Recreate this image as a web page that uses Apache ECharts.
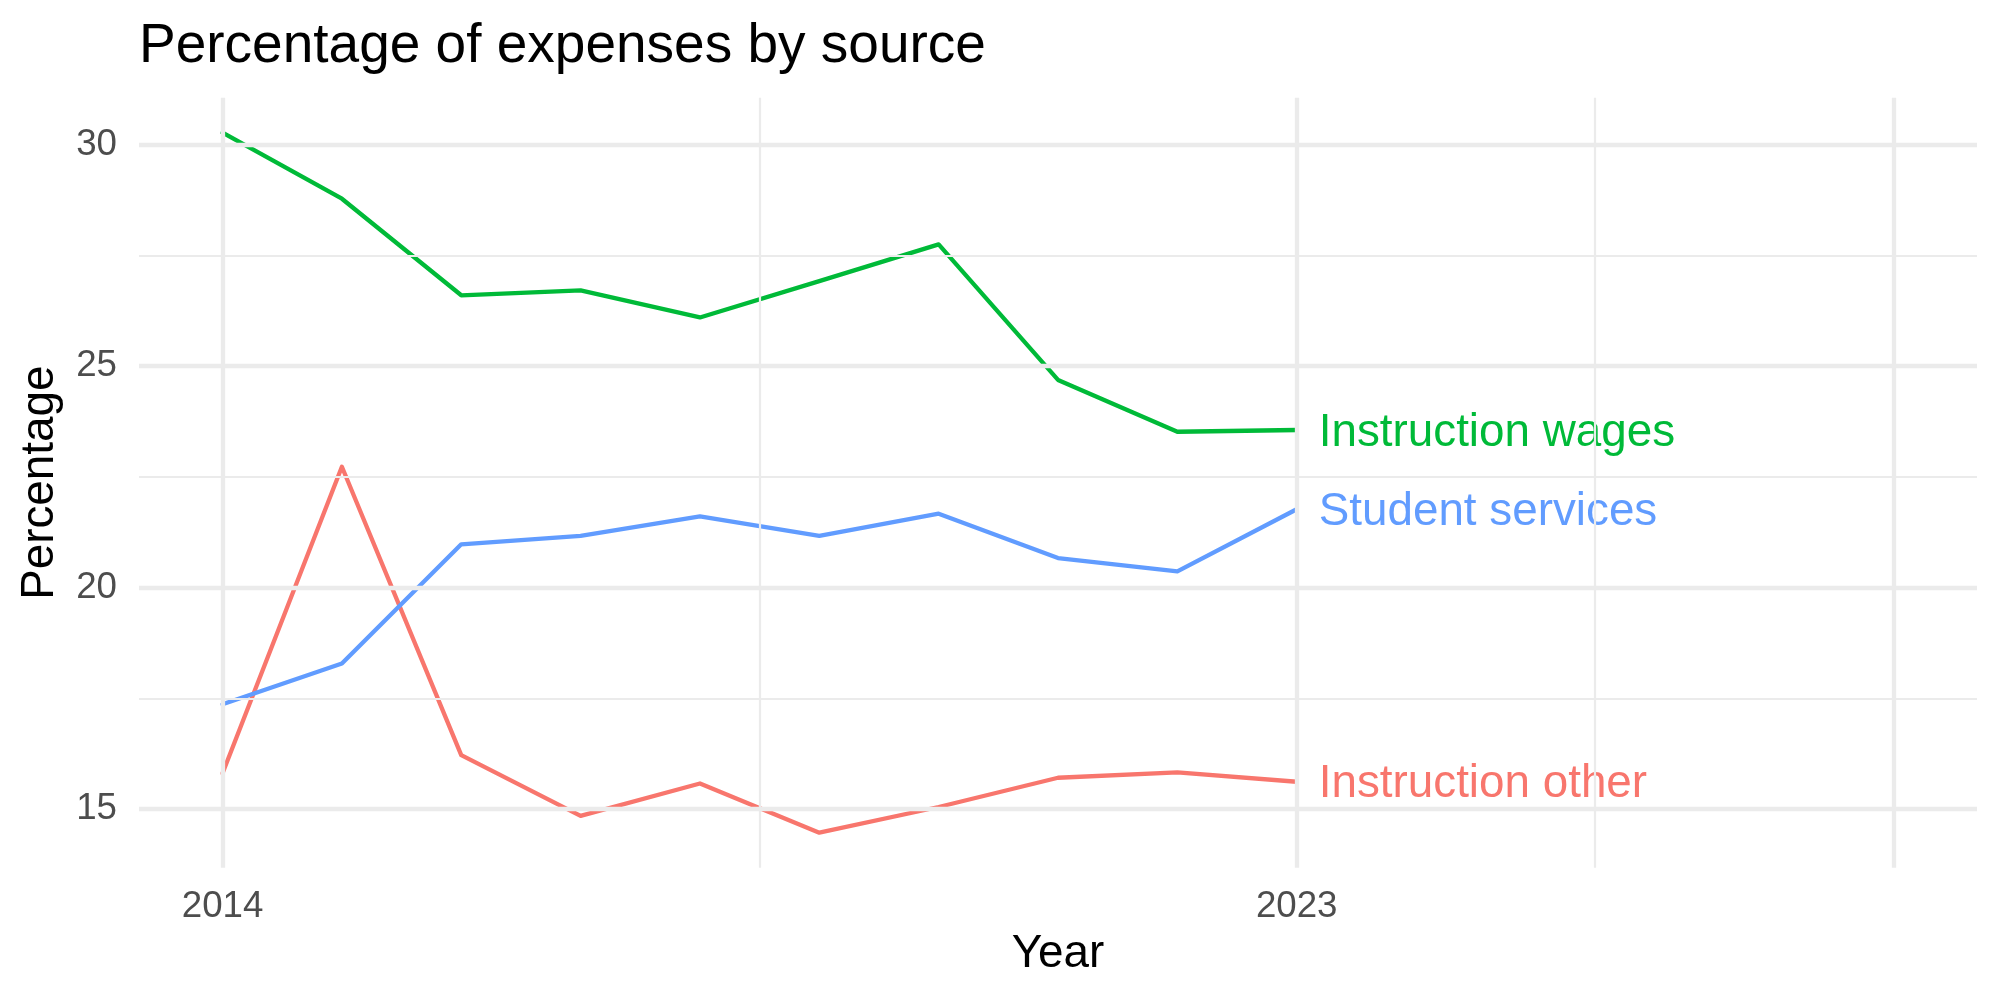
<!DOCTYPE html>
<html>
<head>
<meta charset="utf-8">
<script src="https://cdn.jsdelivr.net/npm/echarts@6/dist/echarts.min.js"></script>
<style>
  html, body { margin: 0; padding: 0; background: #fff; }
  #chart { width: 2000px; height: 1000px; }
</style>
</head>
<body>
<div id="chart"></div>
<script>
// data
var years = [2014, 2015, 2016, 2017, 2018, 2019, 2020, 2021, 2022, 2023];
var instructionWages = [30.27, 28.78, 26.60, 26.71, 26.10, 26.92, 27.75, 24.69, 23.52, 23.56];
var studentServices = [17.37, 18.29, 20.98, 21.17, 21.61, 21.17, 21.67, 20.67, 20.37, 21.77];
var instructionOther = [15.81, 22.73, 16.22, 14.85, 15.58, 14.47, 15.05, 15.71, 15.83, 15.62];

var xLimits = [2014, 2028];
var xMajor = [2014, 2023, 2028];
var xMinor = [2018.5, 2025.5];
var xLabels = [2014, 2023];
var yMajor = [15, 20, 25, 30];
var yMinor = [17.5, 22.5, 27.5];

var FONT = '"Liberation Sans", Arial, Helvetica, sans-serif';
var GRID = '#EBEBEB';

function pairs(vals) {
    var out = [];
    for (var i = 0; i < years.length; i++) {
        out.push([years[i], vals[i]]);
    }
    return out;
}

// ggplot style 5% expansion
var allVals = instructionWages.concat(studentServices, instructionOther);
var yLo = Math.min.apply(null, allVals), yHi = Math.max.apply(null, allVals);
var yPad = (yHi - yLo) * 0.05;
var xPad = (xLimits[1] - xLimits[0]) * 0.05;

var gridLines = [];
xMajor.forEach(function (v) { gridLines.push({ xAxis: v, lineStyle: { color: GRID, width: 4.3, type: 'solid' } }); });
xMinor.forEach(function (v) { gridLines.push({ xAxis: v, lineStyle: { color: GRID, width: 2.2, type: 'solid' } }); });
yMajor.forEach(function (v) { gridLines.push({ yAxis: v, lineStyle: { color: GRID, width: 4.3, type: 'solid' } }); });
yMinor.forEach(function (v) { gridLines.push({ yAxis: v, lineStyle: { color: GRID, width: 2.2, type: 'solid' } }); });

function lineSeries(name, vals, color) {
    return {
        name: name,
        type: 'line',
        data: pairs(vals),
        symbol: 'none',
        z: 3,
        lineStyle: { color: color, width: 4.3, join: 'round', cap: 'round' },
        itemStyle: { color: color },
        emphasis: { disabled: true },
        endLabel: {
            show: true,
            formatter: '{a}',
            color: color,
            fontSize: 45.8,
            fontFamily: FONT,
            distance: 22,
            offset: [0, 3]
        }
    };
}

var chart = echarts.init(document.getElementById('chart'));
var option = {
    animation: false,
    backgroundColor: '#fff',
    title: {
        text: 'Percentage of expenses by source',
        left: 139,
        top: 19,
        padding: 0,
        textStyle: { fontSize: 55, fontWeight: 'normal', color: '#000', fontFamily: FONT }
    },
    grid: { left: 139, right: 23, top: 97.7, bottom: 132.3, containLabel: false, outerBoundsMode: 'none' },
    xAxis: {
        type: 'value',
        min: xLimits[0] - xPad,
        max: xLimits[1] + xPad,
        axisLine: { show: false },
        axisTick: { show: false },
        splitLine: { show: false },
        axisLabel: {
            customValues: xLabels,
            formatter: function (v) { return String(v); },
            color: '#4D4D4D',
            fontSize: 36.7,
            fontFamily: FONT,
            margin: 21
        },
        name: 'Year',
        nameLocation: 'middle',
        nameGap: 64,
        nameTextStyle: { fontSize: 45.8, color: '#000', fontFamily: FONT }
    },
    yAxis: {
        type: 'value',
        min: yLo - yPad,
        max: yHi + yPad,
        axisLine: { show: false },
        axisTick: { show: false },
        splitLine: { show: false },
        axisLabel: {
            customValues: yMajor,
            color: '#4D4D4D',
            fontSize: 36.7,
            fontFamily: FONT,
            margin: 22,
            padding: [4, 0, 0, 0]
        },
        name: 'Percentage',
        nameLocation: 'middle',
        nameRotate: 90,
        nameGap: 76,
        nameTextStyle: { fontSize: 45.8, color: '#000', fontFamily: FONT }
    },
    series: [
        {
            name: 'grid',
            type: 'line',
            data: [],
            z: 1,
            silent: true,
            markLine: { symbol: 'none', silent: true, animation: false, label: { show: false }, emphasis: { disabled: true }, data: gridLines }
        },
        lineSeries('Instruction other', instructionOther, '#F8766D'),
        lineSeries('Instruction wages', instructionWages, '#00BA38'),
        lineSeries('Student services', studentServices, '#619CFF')
    ]
};
chart.setOption(option);
</script>
</body>
</html>
